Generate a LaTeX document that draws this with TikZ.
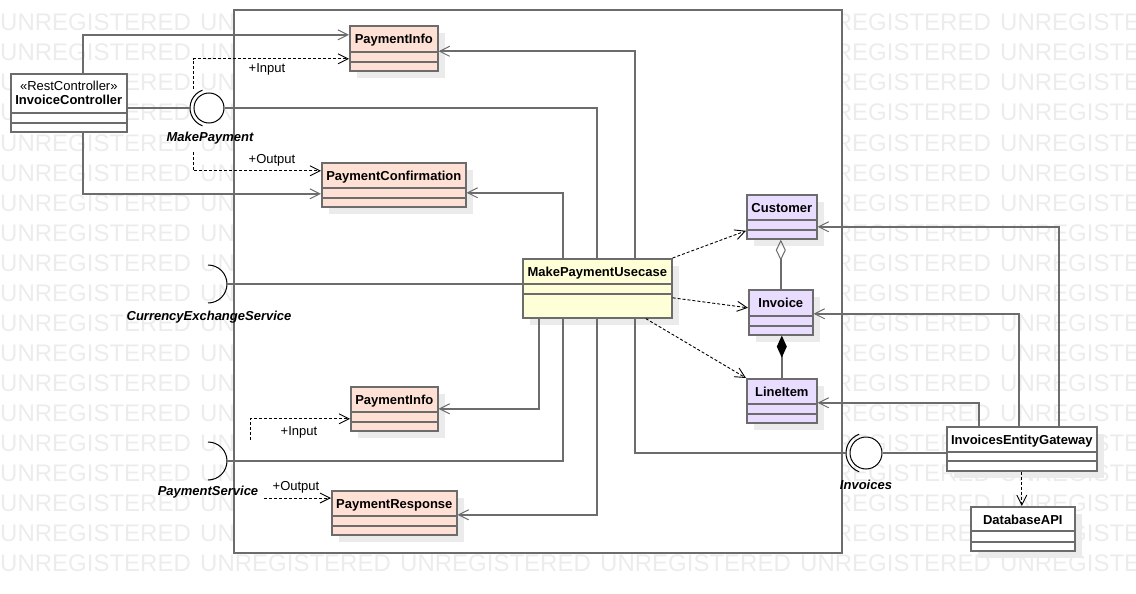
\documentclass[tikz,border=0pt]{standalone}
\usepackage{fontspec}
\setmainfont{Liberation Sans}
\usetikzlibrary{arrows.meta,shadows}
\newcommand{\umlsize}{\fontsize{13}{14.5}\selectfont}
\definecolor{lineGray}{RGB}{108,108,108}
\definecolor{peach}{RGB}{255,224,212}
\definecolor{lemon}{RGB}{255,255,215}
\definecolor{lilac}{RGB}{233,221,255}
\definecolor{wmGray}{RGB}{236,236,236}

\tikzset{
  umlclass/.style={draw=lineGray, line width=1.6pt, anchor=north west, inner sep=0pt,
    font=\umlsize\bfseries, text height=17.5pt, text depth=26.5pt},
  castshadow/.style={drop shadow={shadow xshift=7pt, shadow yshift=-7pt, fill=black!8, opacity=1}},
  seps/.style 2 args={path picture={
      \draw[lineGray, line width=1.6pt] ([yshift=#1]path picture bounding box.south west) -- ([yshift=#1]path picture bounding box.south east);
      \draw[lineGray, line width=1.6pt] ([yshift=#2]path picture bounding box.south west) -- ([yshift=#2]path picture bounding box.south east);}},
  compframe/.style={draw=lineGray, line width=1.6pt, fill=white},
  conn/.style={draw=lineGray, line width=1.6pt},
  assoc/.style={conn, -{Straight Barb[length=10pt,width=10pt,line width=1pt]}},
  dep/.style={black, line width=0.9pt, dash pattern=on 3pt off 2pt, -{Straight Barb[length=10pt,width=10pt,line width=0.9pt]}},
  iface/.style={font=\umlsize\bfseries\itshape},
  ball/.style={circle, draw=black, line width=1pt, fill=white, minimum size=30pt, inner sep=0pt},
  socket/.style={black, line width=1pt},
  wmark/.style={anchor=base west, inner sep=0pt, text=wmGray, font=\fontsize{24}{28}\selectfont}
}

\begin{document}
\begin{tikzpicture}[x=1pt,y=-1pt,every node/.style={font=\umlsize}]
  \useasboundingbox (0,0) rectangle (1136,594);
  % watermark rows
  \foreach \row in {0,...,18}{
    \foreach \col in {0,...,5}{
      \node[wmark] (wm-\col-\row) at (200*\col,31+30*\row) {UNREGISTERED};
    }
  }
  \draw[compframe] (234,10) rectangle (842,553);

  % classes
  \node[umlclass, seps={19pt}{9pt}, fill=white, minimum width=116pt, font=\umlsize,
        text height=16.5pt, text depth=41.5pt] (ctrl) at (10,73)
        {\begin{tabular}[t]{@{}c@{}}«RestController»\\\textbf{InvoiceController}\end{tabular}};
  \node[umlclass, castshadow, seps={19pt}{9pt}, fill=peach, minimum width=88pt, text depth=27.5pt] (payInfo) at (349,25) {PaymentInfo};
  \node[umlclass, castshadow, seps={19pt}{9pt}, fill=peach, minimum width=144pt] (payConf) at (321,162) {PaymentConfirmation};
  \node[umlclass, castshadow, seps={34pt}{24pt}, fill=lemon, minimum width=149pt, text depth=41.5pt] (usecase) at (522,258) {MakePaymentUsecase};
  \node[umlclass, castshadow, seps={19pt}{9pt}, fill=lilac, minimum width=70pt] (customer) at (746,194) {Customer};
  \node[umlclass, castshadow, seps={19pt}{9pt}, fill=lilac, minimum width=64pt, text depth=27.5pt] (invoice) at (748,289) {Invoice};
  \node[umlclass, castshadow, seps={19pt}{9pt}, fill=lilac, minimum width=70pt] (lineItem) at (746,378) {LineItem};
  \node[umlclass, castshadow, seps={19pt}{9pt}, fill=peach, minimum width=87pt] (payInfo2) at (350,386) {PaymentInfo};
  \node[umlclass, castshadow, seps={19pt}{9pt}, fill=peach, minimum width=125pt] (payResp) at (331,490) {PaymentResponse};
  \node[umlclass, castshadow, seps={19pt}{10pt}, fill=white, minimum width=150pt] (gateway) at (946,426) {InvoicesEntityGateway};
  \node[umlclass, castshadow, seps={20pt}{9pt}, fill=white, minimum width=104pt] (db) at (970,506) {DatabaseAPI};

  % interfaces
  \node[ball] (mpBall) at (209,108) {};
  \draw[socket] (mpBall.center) ++(250:19) arc[start angle=250, end angle=110, radius=19];
  \coordinate (mpSock) at (190,108);
  \node[iface] (mpLabel) at (210,138) {MakePayment};
  \node[ball, minimum size=32pt] (invBall) at (866,453) {};
  \draw[socket] (invBall.center) ++(250:20) arc[start angle=250, end angle=110, radius=20];
  \coordinate (invSock) at (846,453);
  \node[iface] (invLabel) at (866,485) {Invoices};
  \draw[socket] (208,265) arc[start angle=270, end angle=450, radius=19];
  \coordinate (cesSock) at (227,284);
  \node[iface] (cesLabel) at (209,317) {CurrencyExchangeService};
  \draw[socket] (208,442) arc[start angle=270, end angle=450, radius=19];
  \coordinate (psSock) at (227,461);
  \node[iface] (psLabel) at (208,492) {PaymentService};

  % controller side
  \draw[conn] (ctrl.east |- mpSock) -- (mpSock);
  \draw[assoc] ([xshift=14pt]ctrl.north) |- ([yshift=13.5pt]payInfo.west);
  \draw[assoc] ([xshift=14pt]ctrl.south) |- ([yshift=-9pt]payConf.west);
  \coordinate (inTop) at (193,89);
  \coordinate (outTop) at (193,152);
  \draw[dep] (inTop) |- ([yshift=-10.5pt]payInfo.west);
  \draw[dep] (outTop) |- ([yshift=14pt]payConf.west);
  \node (mpIn) at (267,69) {+Input};
  \node (mpOut) at (272,160) {+Output};

  % usecase wiring
  \draw[conn] (mpBall.east) -| ([xshift=-0.5pt]usecase.north);
  \draw[assoc] ([xshift=37.5pt]usecase.north) |- ([yshift=-3pt]payInfo.east);
  \draw[assoc] ([xshift=-34.5pt]usecase.north) |- ([yshift=-8pt]payConf.east);
  \draw[conn] (cesSock) -- (cesSock -| usecase.west);
  \draw[assoc] ([xshift=-58.5pt]usecase.south) |- (payInfo2.east);
  \draw[conn] ([xshift=-34.5pt]usecase.south) |- (psSock);
  \draw[assoc] ([xshift=-0.5pt]usecase.south) |- ([yshift=-2pt]payResp.east);
  \draw[conn] ([xshift=37.5pt]usecase.south) |- (invSock);
  \coordinate (in2Top) at (250,440);
  \coordinate (out2Start) at (264,498);
  \draw[dep] (in2Top) |- ([yshift=-10pt]payInfo2.west);
  \draw[dep] (out2Start) -- (out2Start -| payResp.west);
  \node (psIn) at (299,432) {+Input};
  \node (psOut) at (296,487) {+Output};

  % entities
  \draw[dep] (usecase.north east) -- ([yshift=-14pt]customer.west);
  \draw[dep] ([yshift=-9.5pt]usecase.east) -- ([yshift=4.5pt]invoice.west);
  \draw[dep] ([xshift=48.5pt]usecase.south) -- (lineItem.north west);
  \draw[conn, -{Diamond[open,length=21pt,width=10pt,line width=1pt]}] (invoice.north) -- (invoice.north |- customer.south);
  \draw[conn, -{Diamond[length=22pt,width=10pt,black]}] (lineItem.north) -- (lineItem.north |- invoice.south);

  % gateway
  \draw[assoc] ([xshift=37pt]gateway.north) |- ([yshift=-10pt]customer.east);
  \draw[assoc] ([xshift=-3pt]gateway.north) |- ([yshift=-1.5pt]invoice.east);
  \draw[assoc] ([xshift=-43pt]gateway.north) |- ([yshift=-2pt]lineItem.east);
  \draw[conn] (invBall.east) -- (invBall.east -| gateway.west);
  \draw[dep] (gateway.south) -- (gateway.south |- db.north);
\end{tikzpicture}
\end{document}
